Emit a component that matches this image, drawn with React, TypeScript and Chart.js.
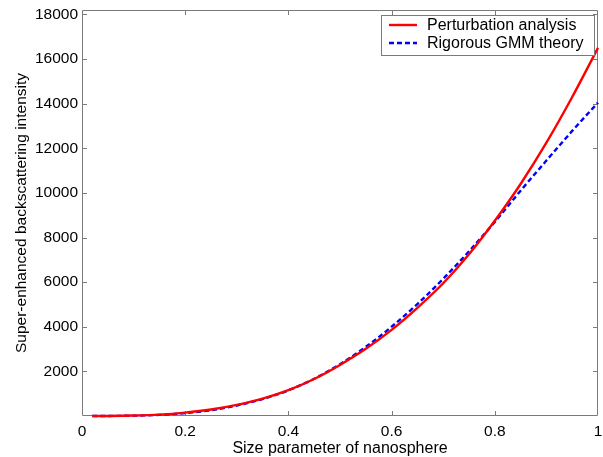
import React, { useEffect, useRef } from "react";
import { Chart, registerables } from "chart.js";

Chart.register(...registerables);

const xValues = [0.02, 0.05, 0.1, 0.15, 0.2, 0.25, 0.3, 0.35, 0.4, 0.45, 0.5, 0.55, 0.6, 0.65, 0.7, 0.75, 0.8, 0.85, 0.9, 0.95, 1.0];
const perturbation = [0, 3, 20, 60, 150, 290, 500, 780, 1160, 1660, 2290, 3010, 3860, 4850, 5950, 7250, 8750, 10400, 12250, 14300, 16500];
const gmm = [0, 2, 15, 50, 130, 260, 470, 760, 1150, 1670, 2320, 3100, 4000, 5020, 6150, 7380, 8700, 10100, 11450, 12780, 14050];
const xTicks = [0, 0.2, 0.4, 0.6, 0.8, 1];
const yTicks = [0, 2000, 4000, 6000, 8000, 10000, 12000, 14000, 16000, 18000];
const seriesLabels = ["Perturbation analysis", "Rigorous GMM theory"];

const FONT = "'Liberation Sans', Arial, Helvetica, sans-serif";
const AXIS_GRAY = "#7a7a7a";

const boxPlugin = {
  id: "matlabBox",
  beforeDatasetsDraw(chart: any) {
    const { ctx, chartArea: a, scales } = chart;
    const xs = scales.x;
    const ys = scales.y;
    ctx.save();
    ctx.strokeStyle = AXIS_GRAY;
    ctx.lineWidth = 1;
    ctx.beginPath();
    ctx.rect(Math.round(a.left) + 0.5, Math.round(a.top) + 0.5, Math.round(a.right - a.left) - 1, Math.round(a.bottom - a.top) - 1);
    ctx.stroke();
    const tl = 5;
    ctx.beginPath();
    xTicks.forEach((v) => {
      const px = Math.round(xs.getPixelForValue(v)) + 0.5;
      if (px <= a.left + 1 || px >= a.right - 1) return;
      ctx.moveTo(px, a.bottom);
      ctx.lineTo(px, a.bottom - tl);
      ctx.moveTo(px, a.top);
      ctx.lineTo(px, a.top + tl);
    });
    yTicks.forEach((v) => {
      const py = Math.round(ys.getPixelForValue(v)) + 0.5;
      if (py <= a.top + 1 || py >= a.bottom - 1) return;
      ctx.moveTo(a.left, py);
      ctx.lineTo(a.left + tl, py);
      ctx.moveTo(a.right, py);
      ctx.lineTo(a.right - tl, py);
    });
    ctx.stroke();
    ctx.restore();
  },
};

const legendPlugin = {
  id: "matlabLegend",
  afterDraw(chart: any) {
    const { ctx, chartArea: a } = chart;
    const ds = chart.data.datasets;
    ctx.save();
    ctx.font = `16px ${FONT}`;
    let maxW = 0;
    ds.forEach((d: any) => {
      maxW = Math.max(maxW, ctx.measureText(d.label).width);
    });
    const padL = 8, sample = 28, gap = 10, padR = 12;
    const w = padL + sample + gap + maxW + padR;
    const h = 41;
    const right = Math.round(a.right) - 3;
    const top = Math.round(a.top) + 5;
    const left = Math.round(right - w);
    ctx.fillStyle = "#ffffff";
    ctx.fillRect(left, top, right - left, h);
    ctx.strokeStyle = AXIS_GRAY;
    ctx.lineWidth = 1;
    ctx.strokeRect(left + 0.5, top + 0.5, right - left - 1, h - 1);
    ds.forEach((d: any, i: number) => {
      const cy = top + 10 + i * 18;
      ctx.beginPath();
      ctx.strokeStyle = d.borderColor;
      ctx.lineWidth = d.borderWidth;
      ctx.setLineDash(d.borderDash || []);
      ctx.moveTo(left + padL, cy);
      ctx.lineTo(left + padL + sample, cy);
      ctx.stroke();
      ctx.setLineDash([]);
      ctx.fillStyle = "#000";
      ctx.textBaseline = "middle";
      ctx.textAlign = "left";
      ctx.fillText(d.label, left + padL + sample + gap, cy + 1);
    });
    ctx.restore();
  },
};

export default function App() {
  const ref = useRef<HTMLCanvasElement | null>(null);
  useEffect(() => {
    if (!ref.current) return;
    const chart = new Chart(ref.current, {
      type: "line",
      data: {
        datasets: [
          {
            label: seriesLabels[0],
            data: xValues.map((x, i) => ({ x, y: perturbation[i] })),
            borderColor: "#ff0000",
            borderWidth: 2.4,
            pointRadius: 0,
            cubicInterpolationMode: "monotone",
            clip: 4,
          },
          {
            label: seriesLabels[1],
            data: xValues.map((x, i) => ({ x, y: gmm[i] })),
            borderColor: "#0000ff",
            borderWidth: 2.4,
            borderDash: [5, 3],
            pointRadius: 0,
            cubicInterpolationMode: "monotone",
            clip: 4,
          },
        ],
      },
      options: {
        animation: false,
        responsive: false,
        devicePixelRatio: 1,
        layout: { padding: { top: 10, right: 5, left: 0, bottom: 0 } },
        plugins: { legend: { display: false }, tooltip: { enabled: false } },
        scales: {
          x: {
            type: "linear",
            min: 0,
            max: 1,
            grid: { display: false, drawTicks: false },
            border: { display: false },
            afterBuildTicks: (s: any) => {
              s.ticks = xTicks.map((v) => ({ value: v }));
            },
            afterFit: (s: any) => {
              s.height = 41;
              s.paddingLeft = 0;
              s.paddingRight = 0;
            },
            ticks: {
              autoSkip: false,
              maxRotation: 0,
              padding: 6,
              color: "#000",
              font: { family: FONT, size: 15.5 },
              callback: (v: any) => String(Math.round(Number(v) * 10) / 10),
            },
            title: {
              display: true,
              text: "Size parameter of nanosphere",
              color: "#000",
              font: { family: FONT, size: 16, lineHeight: 1 },
              padding: { top: 0, bottom: 0.5 },
            },
          },
          y: {
            type: "linear",
            min: 0,
            max: 18200,
            grid: { display: false, drawTicks: false },
            border: { display: false },
            afterBuildTicks: (s: any) => {
              s.ticks = yTicks.map((v) => ({ value: v }));
            },
            afterFit: (s: any) => {
              s.width = 82;
              s.paddingTop = 0;
              s.paddingBottom = 0;
            },
            ticks: {
              autoSkip: false,
              padding: 4,
              color: "#000",
              font: { family: FONT, size: 15.5 },
              callback: (v: any) => (Number(v) === 0 ? "" : String(v)),
            },
            title: {
              display: true,
              text: "Super-enhanced backscattering intensity",
              color: "#000",
              font: { family: FONT, size: 15.5 },
              padding: { top: 12, bottom: 0 },
            },
          },
        },
      },
      plugins: [boxPlugin, legendPlugin],
    } as any);
    return () => chart.destroy();
  }, []);
  return (
    <div style={{ position: "absolute", left: 0, top: 0, width: 603, height: 457, background: "#fff" }}>
      <canvas ref={ref} width={603} height={457} style={{ display: "block", width: 603, height: 457 }} />
    </div>
  );
}
